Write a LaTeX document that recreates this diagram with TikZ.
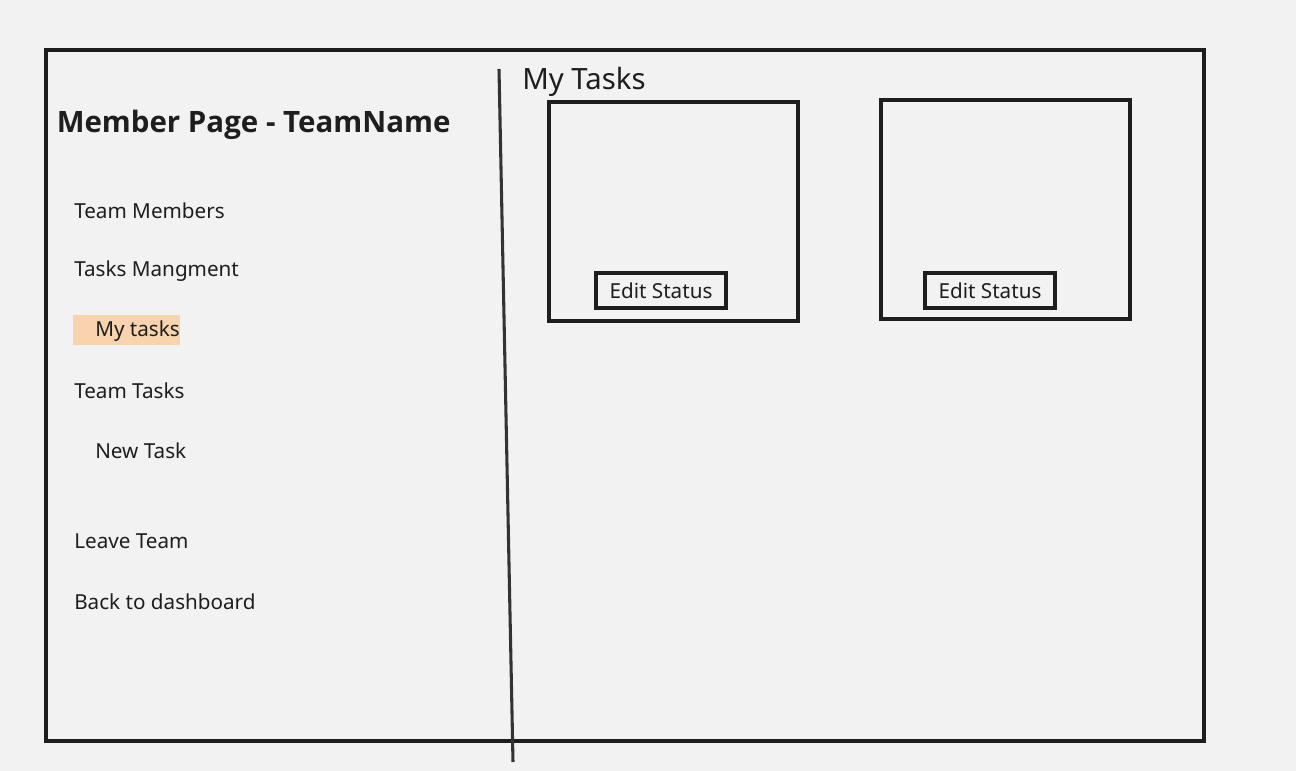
\documentclass[tikz,border=0pt]{standalone}
\usepackage{fontspec}
\setmainfont{Noto Sans}
\newfontfamily\titlefont{Open Sans}
\definecolor{bg}{HTML}{F2F2F2}
\definecolor{ink}{HTML}{1E1E1E}
\definecolor{divider}{HTML}{333333}
\definecolor{peach}{HTML}{F8D3AE}
\begin{document}
\begin{tikzpicture}[x=0.75pt,y=-0.75pt,
  frame/.style={draw=ink,line width=3pt},
  card/.style={draw=ink,line width=3pt},
  button/.style={draw=ink,line width=2.6pt,inner sep=0pt,minimum width=97.5pt,minimum height=26pt,font=\fontsize{15.5}{18}\selectfont,text=ink},
  menu/.style={anchor=west,inner sep=0pt,font=\fontsize{15.5}{18}\selectfont,text=ink},
  title/.style={anchor=west,inner sep=0pt,font=\titlefont\fontsize{22.1}{26}\selectfont\bfseries,text=ink},
  heading/.style={anchor=west,inner sep=0pt,font=\fontsize{22}{26}\selectfont,text=ink}]
\fill[bg] (0,0) rectangle (1296,771);
\useasboundingbox (0,0) rectangle (1296,771);
% outer frame
\draw[frame] (46,50) rectangle (1204,741);
% divider
\coordinate (dtop) at (499,69);
\coordinate (dbot) at (513,762);
\draw[divider,line width=2.3pt] (dtop) -- (dbot);
% left panel
\node[title] (title) at (56.5,125) {Member Page - TeamName};
\node[menu] (members) at (74,211) {Team Members};
\node[menu] (mgmt) at (74,271) {Tasks Mangment};
\fill[peach] (73,315) rectangle (180,345);
\node[menu] (mytasks) at (95,331) {My tasks};
\node[menu] (teamtasks) at (74,391) {Team Tasks};
\node[menu] (newtask) at (95,451) {New Task};
\node[menu] (leave) at (74,541) {Leave Team};
\node[menu] (back) at (74,602) {Back to dashboard};
% right panel
\node[heading] (heading) at (522,81.5) {My Tasks};
\draw[card] (549,102) rectangle (798,321);
\draw[card] (881,100) rectangle (1130,319);
\node[button] (edit1) at (661,290.5) {Edit Status};
\node[button] (edit2) at (990,290.5) {Edit Status};
\end{tikzpicture}
\end{document}
